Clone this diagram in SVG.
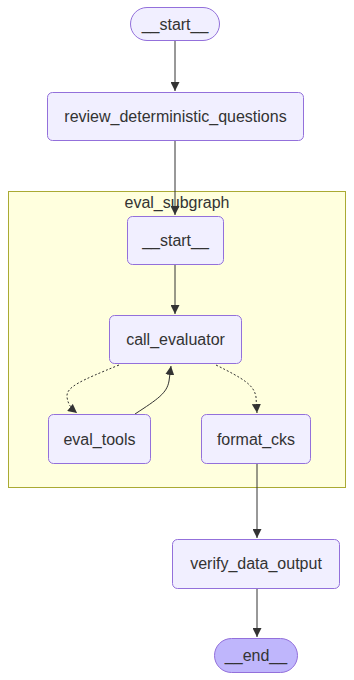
<svg xmlns="http://www.w3.org/2000/svg" width="354" height="680" viewBox="0 0 354 680">
  <style>
    .node rect { fill: #f1efff; stroke: #9370db; stroke-width: 1; }
    .node.terminal rect { fill: #bfb6fc; }
    .node.startpill rect { fill: #f1efff; }
    text { font-family: "Liberation Sans", Arial, sans-serif; font-size: 16px; fill: #333333; text-anchor: middle; }
    .edge { fill: none; stroke: #333333; stroke-width: 1; }
    .dotted { stroke-dasharray: 2 2; }
    .cluster { fill: #ffffde; stroke: #aaaa33; stroke-width: 1; }
  </style>
  <defs>
    <marker id="arrow" viewBox="0 0 10 10" refX="10" refY="5" markerUnits="userSpaceOnUse" markerWidth="9" markerHeight="9" orient="auto">
      <path d="M0,0 L10,5 L0,10 z" fill="#333333"/>
    </marker>
  </defs>
  <rect width="354" height="680" fill="#ffffff"/>

  <!-- subgraph container -->
  <g id="eval_subgraph">
    <rect class="cluster" x="8.5" y="191.5" width="337" height="296"/>
    <text x="177" y="208">eval_subgraph</text>
  </g>

  <!-- connectors -->
  <g id="edges">
    <path class="edge" d="M175,41 L175,91" marker-end="url(#arrow)"/>
    <path class="edge" d="M175,141 L175,215" marker-end="url(#arrow)"/>
    <path class="edge" d="M175,265 L175,314" marker-end="url(#arrow)"/>
    <path class="edge dotted" d="M119,365 C 80,381 66,387 67,397 C 68,405 72,409 77,413" marker-end="url(#arrow)"/>
    <path class="edge" d="M135,414 C 158,399 167,393 169,381 L 171,366" marker-end="url(#arrow)"/>
    <path class="edge dotted" d="M216,365 C 244,379 254,385 256,397 L 257,413" marker-end="url(#arrow)"/>
    <path class="edge" d="M257,464 L257,538" marker-end="url(#arrow)"/>
    <path class="edge" d="M257,589 L257,637" marker-end="url(#arrow)"/>
  </g>

  <!-- nodes -->
  <g id="start" class="node startpill">
    <rect x="130.5" y="7.5" width="89" height="33" rx="16.5" ry="16.5"/>
    <text x="175" y="29.5">__start__</text>
  </g>
  <g id="review_deterministic_questions" class="node">
    <rect x="47.5" y="92.5" width="256" height="48" rx="5" ry="5"/>
    <text x="175.5" y="122">review_deterministic_questions</text>
  </g>
  <g id="eval_subgraph_start" class="node">
    <rect x="127.5" y="216.5" width="96" height="48" rx="5" ry="5"/>
    <text x="175.5" y="246">__start__</text>
  </g>
  <g id="call_evaluator" class="node">
    <rect x="109.5" y="315.5" width="132" height="48" rx="5" ry="5"/>
    <text x="175.5" y="345">call_evaluator</text>
  </g>
  <g id="eval_tools" class="node">
    <rect x="48.5" y="414.5" width="102" height="49" rx="5" ry="5"/>
    <text x="99.5" y="444.5">eval_tools</text>
  </g>
  <g id="format_cks" class="node">
    <rect x="201.5" y="414.5" width="109" height="49" rx="5" ry="5"/>
    <text x="256" y="444.5">format_cks</text>
  </g>
  <g id="verify_data_output" class="node">
    <rect x="172.5" y="539.5" width="167" height="49" rx="5" ry="5"/>
    <text x="256" y="569">verify_data_output</text>
  </g>
  <g id="end" class="node terminal">
    <rect x="214.5" y="638.5" width="83" height="34" rx="17" ry="17"/>
    <text x="256" y="661">__end__</text>
  </g>
</svg>
